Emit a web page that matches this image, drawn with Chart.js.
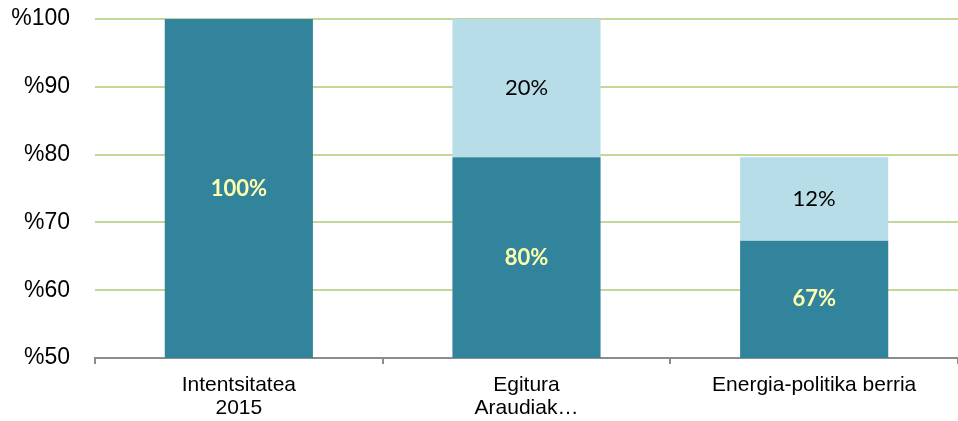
<!DOCTYPE html>
<html>
<head>
<meta charset="utf-8">
<script src="https://cdn.jsdelivr.net/npm/chart.js@4"></script>
<style>
  html, body { margin: 0; padding: 0; background: #fff; }
  #wrap { width: 958px; height: 421px; }
</style>
</head>
<body>
<div id="wrap"><canvas id="myChart"></canvas></div>
<script>
const categories = [['Intentsitatea', '2015'], ['Egitura', 'Araudiak…'], 'Energia-politika berria'];
const baseValues = [100, 79.6, 67.3];
const addedValues = [null, 20.4, 12.3];
const baseLabels = ['100%', '80%', '67%'];
const addedLabels = ['', '20%', '12%'];
const yTicks = [50, 60, 70, 80, 90, 100];

const darkTeal = '#31849B';
const lightBlue = '#B7DEE8';

// draws the percent text in the middle of the visible part of each bar segment
const segmentLabels = {
  id: 'segmentLabels',
  afterDatasetsDraw(chart) {
    const ctx = chart.ctx;
    const area = chart.chartArea;
    chart.data.datasets.forEach((ds, di) => {
      const meta = chart.getDatasetMeta(di);
      meta.data.forEach((bar, i) => {
        const txt = ds.segLabels[i];
        if (!txt) return;
        const top = Math.max(bar.y, area.top);
        const bottom = Math.min(bar.base, area.bottom);
        ctx.save();
        ctx.font = ds.segFont;
        ctx.fillStyle = ds.segColor;
        ctx.textAlign = 'center';
        ctx.textBaseline = 'middle';
        ctx.fillText(txt, bar.x, (top + bottom) / 2);
        ctx.restore();
      });
    });
  }
};

const ctx = document.getElementById('myChart');

new Chart(ctx, {
  type: 'bar',
  data: {
    labels: categories,
    datasets: [{
      data: baseValues,
      backgroundColor: darkTeal,
      segLabels: baseLabels,
      segFont: 'bold 22px Lato',
      segColor: '#FFFFB0'
    }, {
      data: addedValues,
      backgroundColor: lightBlue,
      segLabels: addedLabels,
      segFont: '22px Lato',
      segColor: '#000'
    }]
  },
  options: {
    responsive: true,
    maintainAspectRatio: false,
    animation: false,
    datasets: {
      bar: { categoryPercentage: 1, barPercentage: 0.515 }
    },
    layout: { padding: { top: 19, right: 0, left: 0, bottom: 0 } },
    plugins: {
      legend: { display: false },
      tooltip: { enabled: false }
    },
    scales: {
      x: {
        stacked: true,
        afterFit: s => { s.height = 63; s.paddingLeft = 0; s.paddingRight = 0 },
        border: { display: true, color: '#8C8C8C', width: 2 },
        grid: { drawOnChartArea: false, drawTicks: true, tickLength: 6, color: '#8C8C8C', lineWidth: 2, offset: true },
        ticks: {
          color: '#000',
          padding: 10,
          maxRotation: 0,
          font: { family: 'Liberation Sans', size: 21, lineHeight: 1.1 }
        }
      },
      y: {
        stacked: true,
        min: 50,
        max: 100,
        afterFit: s => { s.width = 95; s.paddingTop = 0; s.paddingBottom = 0 },
        afterBuildTicks: s => { s.ticks = yTicks.map(v => ({ value: v })) },
        border: { display: false },
        grid: {
          drawTicks: false,
          lineWidth: 2,
          color: c => c.tick && c.tick.value === 50 ? 'rgba(0,0,0,0)' : '#C4D79B'
        },
        ticks: {
          color: '#000',
          padding: 25,
          font: { family: 'Liberation Sans', size: 23 },
          callback: v => '%' + v
        }
      }
    }
  },
  plugins: [segmentLabels]
});
</script>
</body>
</html>
